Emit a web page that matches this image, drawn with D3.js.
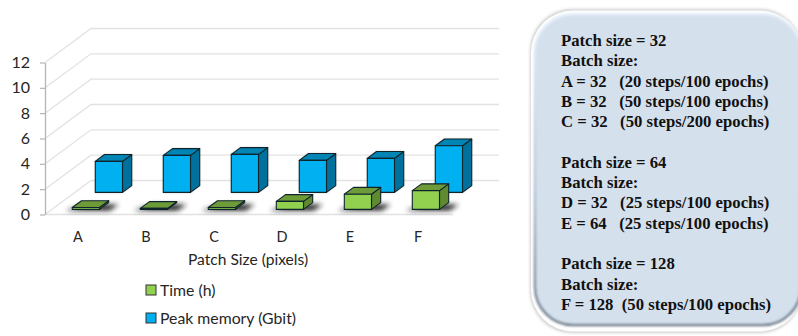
<!DOCTYPE html>
<html>
<head>
<meta charset="utf-8">
<script src="https://cdn.jsdelivr.net/npm/d3@7/dist/d3.min.js"></script>
<style>
  html, body { margin: 0; padding: 0; background: #fff; overflow: hidden; }
  svg { display: block; }
  .sans { font-family: Lato, "Open Sans", sans-serif; fill: #262626; }
  .note { font-family: "Liberation Serif", serif; font-weight: 700; font-size: 16.7px; fill: #111; white-space: pre; }
</style>
</head>
<body>
<svg id="chart" width="798" height="336"></svg>
<script>
// Chart content
const categories = ["A", "B", "C", "D", "E", "F"];
const seriesNames = ["Time (h)", "Peak memory (Gbit)"];
const timeHours = [0.15, 0.08, 0.15, 0.63, 1.2, 1.48];
const peakMemory = [2.45, 2.92, 3.0, 2.53, 2.69, 3.68];
const yTicks = [0, 2, 4, 6, 8, 10, 12];
const noteLines = [
  "Patch size = 32", "Batch size:",
  "A = 32   (20 steps/100 epochs)",
  "B = 32   (50 steps/100 epochs)",
  "C = 32   (50 steps/200 epochs)",
  "",
  "Patch size = 64", "Batch size:",
  "D = 32   (25 steps/100 epochs)",
  "E = 64   (25 steps/100 epochs)",
  "",
  "Patch size = 128", "Batch size:",
  "F = 128  (50 steps/100 epochs)"
];

const svg = d3.select("#chart");
const defs = svg.append("defs");

const floorShift = { x: 46, y: -34 };
const x = d3.scaleBand().domain(categories).range([45, 453]).paddingInner(0.6).paddingOuter(0.3);
const y = d3.scaleLinear().domain([0, 12]).range([214.5, 62.5]);
const z = d3.scaleBand().domain(seriesNames).range([0, 1]).paddingInner(0.6).paddingOuter(0.3);

// Oblique projection: u along the categories, v is value, w runs into the chart
const project = (u, v, w) => [u + w * floorShift.x, y(v) + w * floorShift.y];
const poly = pts => "M" + pts.map(p => p.join(",")).join("L") + "Z";

defs.append("filter").attr("id", "floorShadow")
  .attr("x", "-30%").attr("y", "-100%").attr("width", "160%").attr("height", "300%")
  .append("feGaussianBlur").attr("stdDeviation", 2.4);
defs.append("filter").attr("id", "barHalo")
  .attr("x", "-20%").attr("y", "-20%").attr("width", "140%").attr("height", "140%")
  .append("feGaussianBlur").attr("stdDeviation", 1.1);
defs.append("filter").attr("id", "panelShadow")
  .attr("x", "-5%").attr("y", "-5%").attr("width", "110%").attr("height", "110%")
  .append("feGaussianBlur").attr("stdDeviation", 1.8);
defs.append("filter").attr("id", "bevelBlur")
  .attr("x", "-5%").attr("y", "-5%").attr("width", "110%").attr("height", "110%")
  .append("feGaussianBlur").attr("stdDeviation", 0.9);

const bevel = defs.append("linearGradient").attr("id", "panelBevel")
  .attr("x1", 0).attr("y1", 0).attr("x2", 0).attr("y2", 1);
bevel.append("stop").attr("offset", 0).attr("stop-color", "#e8f2fb");
bevel.append("stop").attr("offset", 0.55).attr("stop-color", "#b9c8d8");
bevel.append("stop").attr("offset", 1).attr("stop-color", "#6f7c8c");

// Gridlines on the side wall and back wall
const grid = svg.append("g").attr("fill", "none").attr("stroke", "#e2e2e2").attr("stroke-width", 1.3);
yTicks.forEach(t => {
  const [fx, fy] = project(x.range()[0], t, 0);
  const [bx, by] = project(x.range()[0], t, 1);
  const [ex, ey] = project(x.range()[1], t, 1);
  grid.append("path").attr("d", `M${fx},${fy}L${bx},${by}L${ex},${ey}`);
});
grid.append("line").attr("x1", x.range()[0]).attr("x2", x.range()[1])
  .attr("y1", y(0)).attr("y2", y(0)).attr("stroke-width", 1.6);

// Value axis
const axis = svg.append("g").attr("transform", `translate(${x.range()[0]},0)`)
  .call(d3.axisLeft(y).tickValues(yTicks).tickSize(5).tickPadding(10).tickSizeOuter(0));
axis.select(".domain").attr("stroke", "#b5b5b5").attr("stroke-width", 1.3);
axis.selectAll(".tick line").attr("stroke", "#b5b5b5").attr("stroke-width", 1.2);
axis.selectAll(".tick text").attr("class", "sans").attr("font-size", 16).style("font-family", "Lato").style("fill", "#262626");

// Category labels
svg.append("g").selectAll("text").data(categories).join("text")
  .attr("class", "sans").attr("font-size", 14.5).attr("text-anchor", "middle")
  .attr("x", d => x(d) + x.bandwidth() / 2 - 1).attr("y", 242).text(d => d);

svg.append("text").attr("class", "sans").attr("font-size", 15.6).attr("text-anchor", "middle")
  .attr("x", 248).attr("y", 265).text("Patch Size (pixels)");

// One oblique box per value
const palette = {
  "Time (h)": { front: "#92d050", side: "#5f8a30", top: "#6c9b38" },
  "Peak memory (Gbit)": { front: "#00b0f0", side: "#00719c", top: "#0085b5" }
};

function drawBar(layer, cat, name, value) {
  const u0 = x(cat), u1 = u0 + x.bandwidth();
  const w0 = z(name), w1 = w0 + z.bandwidth();
  const c = palette[name];
  const a = project(u0, 0, w0), b = project(u1, 0, w0);
  const d = project(u0, value, w0), e = project(u1, value, w0);
  const f = project(u1, 0, w1), g = project(u1, value, w1), h = project(u0, value, w1);
  if (name === seriesNames[0]) {
    // Soft floor shadow below the low series
    layer.append("path").attr("filter", "url(#floorShadow)").attr("fill", "#1a1a1a")
      .attr("d", poly([[a[0] - 7, a[1] + 1], [b[0] + 10, b[1] + 1], [f[0] + 10, f[1] + 2], [f[0] - 22, f[1] + 2]]));
  } else {
    layer.append("path").attr("filter", "url(#barHalo)").attr("fill", "#999").attr("opacity", 0.7)
      .attr("d", poly([a, b, f, g, h, d]));
  }
  const edges = layer.append("g").attr("stroke", "#10242c").attr("stroke-width", 1.1).attr("stroke-linejoin", "round");
  edges.append("path").attr("fill", c.side).attr("d", poly([b, f, g, e]));
  edges.append("path").attr("fill", c.top).attr("d", poly([d, e, g, h]));
  edges.append("path").attr("fill", c.front).attr("d", poly([a, b, e, d]));
}

const bars = svg.append("g");
categories.forEach((cat, i) => drawBar(bars, cat, seriesNames[1], peakMemory[i]));
categories.forEach((cat, i) => drawBar(bars, cat, seriesNames[0], timeHours[i]));

// Legend
const legend = svg.append("g").selectAll("g").data(seriesNames).join("g")
  .attr("transform", (d, i) => `translate(146,${285 + i * 28})`);
legend.append("rect").attr("width", 10).attr("height", 10)
  .attr("fill", d => palette[d].front).attr("stroke", "#333").attr("stroke-width", 1);
legend.append("text").attr("class", "sans").attr("font-size", 15.8).attr("x", 14).attr("y", 10.5).text(d => d);

// Note panel: soft outer shadow, white rim, bevelled inner edge, fill
svg.append("rect").attr("x", 530).attr("y", 9).attr("width", 272).attr("height", 324).attr("rx", 42)
  .attr("fill", "#cfcfcf").attr("filter", "url(#panelShadow)");
svg.append("rect").attr("x", 531).attr("y", 10.5).attr("width", 271).attr("height", 321).attr("rx", 42)
  .attr("fill", "#fff");
svg.append("rect").attr("x", 535).attr("y", 14).attr("width", 266).attr("height", 311).attr("rx", 38)
  .attr("fill", "#d5e0ed").attr("stroke", "url(#panelBevel)").attr("stroke-width", 2.6).attr("filter", "url(#bevelBlur)");

svg.append("g").selectAll("text").data(noteLines).join("text")
  .attr("class", "note").attr("x", 561)
  .attr("y", (d, i) => 46 + i * 20.3).text(d => d);
</script>
</body>
</html>
